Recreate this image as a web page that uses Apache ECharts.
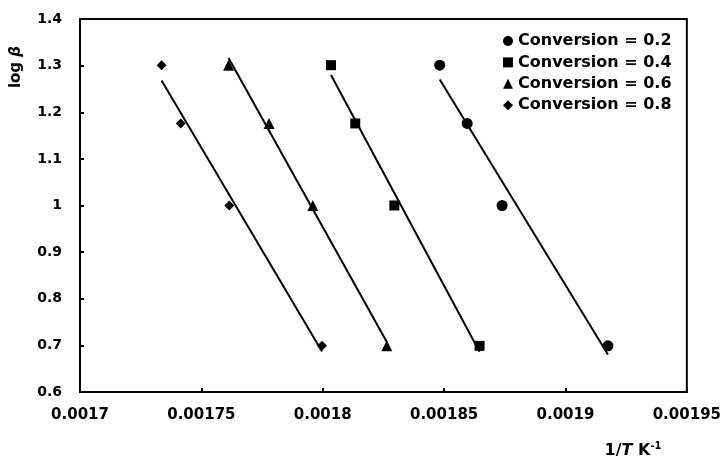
<!DOCTYPE html>
<html>
<head>
<meta charset="utf-8">
<script src="https://cdn.jsdelivr.net/npm/echarts@6/dist/echarts.min.js"></script>
<style>
  html, body { margin: 0; padding: 0; background: #fff; }
  #chart { width: 724px; height: 459px; }
</style>
</head>
<body>
<div id="chart"></div>
<script>
// Kissinger–Akahira–Sunose style plot: log(heating rate) vs inverse temperature
var seriesNames = ['Conversion = 0.2', 'Conversion = 0.4', 'Conversion = 0.6', 'Conversion = 0.8'];
var seriesSymbols = ['circle', 'rect', 'triangle', 'diamond'];

// log β for heating rates 20, 15, 10, 5 K/min
var logBeta = [1.301, 1.176, 1.0, 0.699];

// 1/T (K^-1) at each heating rate, per conversion level
var invT_02 = [0.0018482, 0.0018595, 0.0018739, 0.0019175];
var invT_04 = [0.0018034, 0.0018134, 0.0018295, 0.0018646];
var invT_06 = [0.0017612, 0.0017779, 0.0017959, 0.0018264];
var invT_08 = [0.0017336, 0.0017415, 0.0017615, 0.0017997];

var xTicks = [0.0017, 0.00175, 0.0018, 0.00185, 0.0019, 0.00195];
var yTicks = [0.6, 0.7, 0.8, 0.9, 1.0, 1.1, 1.2, 1.3, 1.4];

var xSets = [invT_02, invT_04, invT_06, invT_08];

var FONT = 'DejaVu Sans';

// least-squares line through a set of points, spanning the x-range of the data
function fitLine(xs, ys) {
  var n = xs.length, sx = 0, sy = 0, sxx = 0, sxy = 0;
  for (var i = 0; i < n; i++) {
    sx += xs[i]; sy += ys[i]; sxx += xs[i] * xs[i]; sxy += xs[i] * ys[i];
  }
  var b = (n * sxy - sx * sy) / (n * sxx - sx * sx);
  var a = (sy - b * sx) / n;
  var x0 = Math.min.apply(null, xs), x1 = Math.max.apply(null, xs);
  return [[x0, a + b * x0], [x1, a + b * x1]];
}

var series = [];
var symbolSizes = [11, 10, 11, 10];
xSets.forEach(function (xs, k) {
  series.push({
    name: seriesNames[k],
    type: 'scatter',
    symbol: seriesSymbols[k],
    symbolSize: symbolSizes[k],
    itemStyle: { color: '#000', opacity: 1 },
    data: xs.map(function (x, i) { return [x, logBeta[i]]; }),
    z: 3
  });
  series.push({
    type: 'line',
    data: fitLine(xs, logBeta),
    showSymbol: false,
    symbol: 'none',
    lineStyle: { color: '#000', width: 2 },
    silent: true,
    z: 2
  });
});

function trimNum(v, d) { return String(parseFloat(v.toFixed(d))); }

var chart = echarts.init(document.getElementById('chart'), null, { renderer: 'canvas' });
chart.setOption({
  animation: false,
  backgroundColor: '#fff',
  grid: {
    left: 80, right: 34, top: 19, bottom: 67,
    show: true, borderColor: '#000', borderWidth: 2, backgroundColor: 'transparent'
  },
  legend: {
    orient: 'vertical',
    left: 498, top: 28,
    itemWidth: 10, itemHeight: 10,
    itemGap: 5.4,
    data: seriesNames.map(function (n, k) { return { name: n, icon: seriesSymbols[k] }; }),
    textStyle: { fontFamily: FONT, fontWeight: 'bold', fontSize: 16, color: '#000', lineHeight: 16 },
    itemStyle: { color: '#000', opacity: 1 }
  },
  xAxis: {
    type: 'value',
    min: xTicks[0], max: xTicks[xTicks.length - 1], interval: 0.00005,
    axisLine: { show: true, lineStyle: { color: '#000', width: 2 } },
    axisTick: { show: true, inside: true, length: 4, lineStyle: { color: '#000', width: 2 } },
    splitLine: { show: false },
    axisLabel: {
      margin: 16, color: '#000', fontFamily: FONT, fontWeight: 'bold', fontSize: 15,
      formatter: function (v) { return trimNum(v, 6); }
    }
  },
  yAxis: {
    type: 'value',
    min: yTicks[0], max: yTicks[yTicks.length - 1], interval: 0.1,
    axisLine: { show: true, lineStyle: { color: '#000', width: 2 } },
    axisTick: { show: true, inside: true, length: 4, lineStyle: { color: '#000', width: 2 } },
    splitLine: { show: false },
    axisLabel: {
      margin: 18, color: '#000', fontFamily: FONT, fontWeight: 'bold', fontSize: 14,
      formatter: function (v) { return trimNum(v, 2); }
    }
  },
  graphic: [
    {
      type: 'text',
      x: 16, y: 67, rotation: Math.PI / 2,
      style: {
        text: '{a|log }{b|β}',
        align: 'center', verticalAlign: 'middle',
        rich: {
          a: { fontFamily: FONT, fontWeight: 'bold', fontSize: 15, fill: '#000' },
          b: { fontFamily: FONT, fontWeight: 'bold', fontStyle: 'italic', fontSize: 15, fill: '#000' }
        }
      }
    },
    {
      type: 'text',
      x: 633, y: 451,
      style: {
        text: '{a|1/}{i|T}{a| K}{s|-1}',
        align: 'center', verticalAlign: 'middle',
        rich: {
          a: { fontFamily: FONT, fontWeight: 'bold', fontSize: 16, fill: '#000' },
          i: { fontFamily: FONT, fontWeight: 'bold', fontStyle: 'italic', fontSize: 16, fill: '#000' },
          s: { fontFamily: FONT, fontWeight: 'bold', fontSize: 10, fill: '#000', padding: [0, 0, 10, 0] }
        }
      }
    }
  ],
  series: series
});
</script>
</body>
</html>
